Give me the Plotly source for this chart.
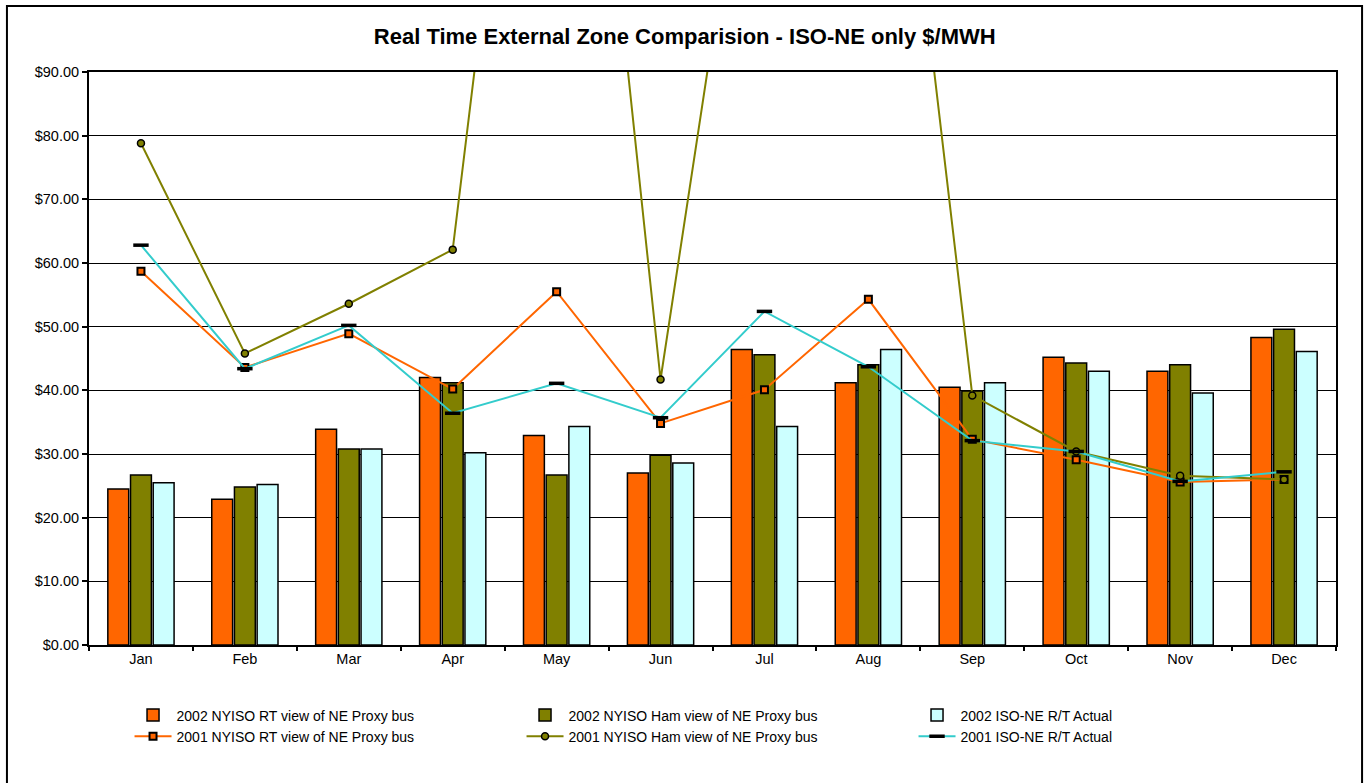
import plotly.graph_objects as go

months = ["Jan", "Feb", "Mar", "Apr", "May", "Jun", "Jul", "Aug", "Sep", "Oct", "Nov", "Dec"]

rt_2002 = [24.5, 22.9, 33.9, 42.0, 32.9, 27.0, 46.4, 41.2, 40.5, 45.2, 43.0, 48.3]
ham_2002 = [26.7, 24.8, 30.8, 41.2, 26.7, 29.8, 45.6, 44.0, 39.9, 44.3, 44.0, 49.6]
iso_2002 = [25.5, 25.2, 30.8, 30.2, 34.3, 28.6, 34.3, 46.4, 41.2, 43.0, 39.6, 46.1]

rt_2001 = [58.7, 43.6, 48.9, 40.2, 55.5, 34.8, 40.1, 54.3, 32.3, 29.1, 25.6, 26.0]
ham_2001 = [78.8, 45.8, 53.6, 62.1, 196.0, 41.7, 149.0, 178.0, 39.2, 30.4, 26.6, 26.0]
iso_2001 = [62.8, 43.4, 50.2, 36.4, 41.1, 35.7, 52.4, 43.7, 32.1, 30.4, 25.7, 27.2]

names = [
    "2002 NYISO RT view of NE Proxy bus",
    "2002 NYISO Ham view of NE Proxy bus",
    "2002 ISO-NE R/T Actual",
    "2001 NYISO RT view of NE Proxy bus",
    "2001 NYISO Ham view of NE Proxy bus",
    "2001 ISO-NE R/T Actual",
]

ORANGE = "#FF6600"
OLIVE = "#808000"
LCYAN = "#CCFFFF"
CYAN = "#33CCCC"
FONT = "Liberation Sans, Arial, sans-serif"

fig = go.Figure()
for vals, col, nm in [(rt_2002, ORANGE, names[0]), (ham_2002, OLIVE, names[1]), (iso_2002, LCYAN, names[2])]:
    fig.add_trace(go.Bar(x=months, y=vals, name=nm,
                         marker=dict(color=col, line=dict(color="black", width=1.5))))

fig.add_trace(go.Scatter(x=months, y=rt_2001, name=names[3], mode="lines+markers",
                         line=dict(color=ORANGE, width=2),
                         marker=dict(symbol="square", size=7, color=ORANGE,
                                     line=dict(color="black", width=2))))
fig.add_trace(go.Scatter(x=months, y=ham_2001, name=names[4], mode="lines+markers",
                         line=dict(color=OLIVE, width=2),
                         marker=dict(symbol="circle", size=7, color=OLIVE,
                                     line=dict(color="black", width=1.5))))
fig.add_trace(go.Scatter(x=months, y=iso_2001, name=names[5], mode="lines+markers",
                         line=dict(color=CYAN, width=2),
                         marker=dict(symbol="line-ew", size=11, color="black",
                                     line=dict(color="black", width=3.5))))

fig.update_layout(
    width=1364, height=783,
    margin=dict(l=89, r=28, t=72, b=138),
    paper_bgcolor="white", plot_bgcolor="white",
    font=dict(family=FONT, size=14, color="black"),
    title=dict(text="<b>Real Time External Zone Comparision - ISO-NE only $/MWH</b>",
               x=0.502, xanchor="center", y=0.954, yanchor="middle",
               font=dict(family=FONT, size=22, color="black")),
    barmode="group", bargap=0.345, bargroupgap=0.08,
    showlegend=True,
    legend=dict(orientation="h", x=0.0325, xanchor="left", y=-0.095, yanchor="top",
                entrywidth=340, entrywidthmode="pixels", itemwidth=37,
                font=dict(family=FONT, size=14, color="black"),
                bgcolor="rgba(0,0,0,0)", tracegroupgap=0, traceorder="normal"),
    xaxis=dict(range=[-0.5, 11.5], autorange=False,
               showline=True, linecolor="black", linewidth=2, mirror=True,
               ticks="outside", ticklen=4, tickwidth=1.5, tickcolor="black",
               tickson="boundaries", showgrid=False,
               tickfont=dict(family=FONT, size=14.5)),
    yaxis=dict(range=[0, 90], dtick=10, tickprefix="$", tickformat=".2f",
               showline=True, linecolor="black", linewidth=2, mirror=True,
               ticks="outside", ticklen=5, tickwidth=1.5, tickcolor="black",
               showgrid=True, gridcolor="black", gridwidth=1, zeroline=False,
               tickfont=dict(family=FONT, size=14.5)),
    shapes=[dict(type="rect", xref="paper", yref="paper",
                 x0=-0.0658, x1=1.0209, y0=-0.26, y1=1.1152,
                 line=dict(color="black", width=2), fillcolor="rgba(0,0,0,0)",
                 layer="below")],
)

fig.write_html("out.html", config={"displayModeBar": False},
               post_script="document.body.style.margin='0';document.body.style.overflow='hidden';")
